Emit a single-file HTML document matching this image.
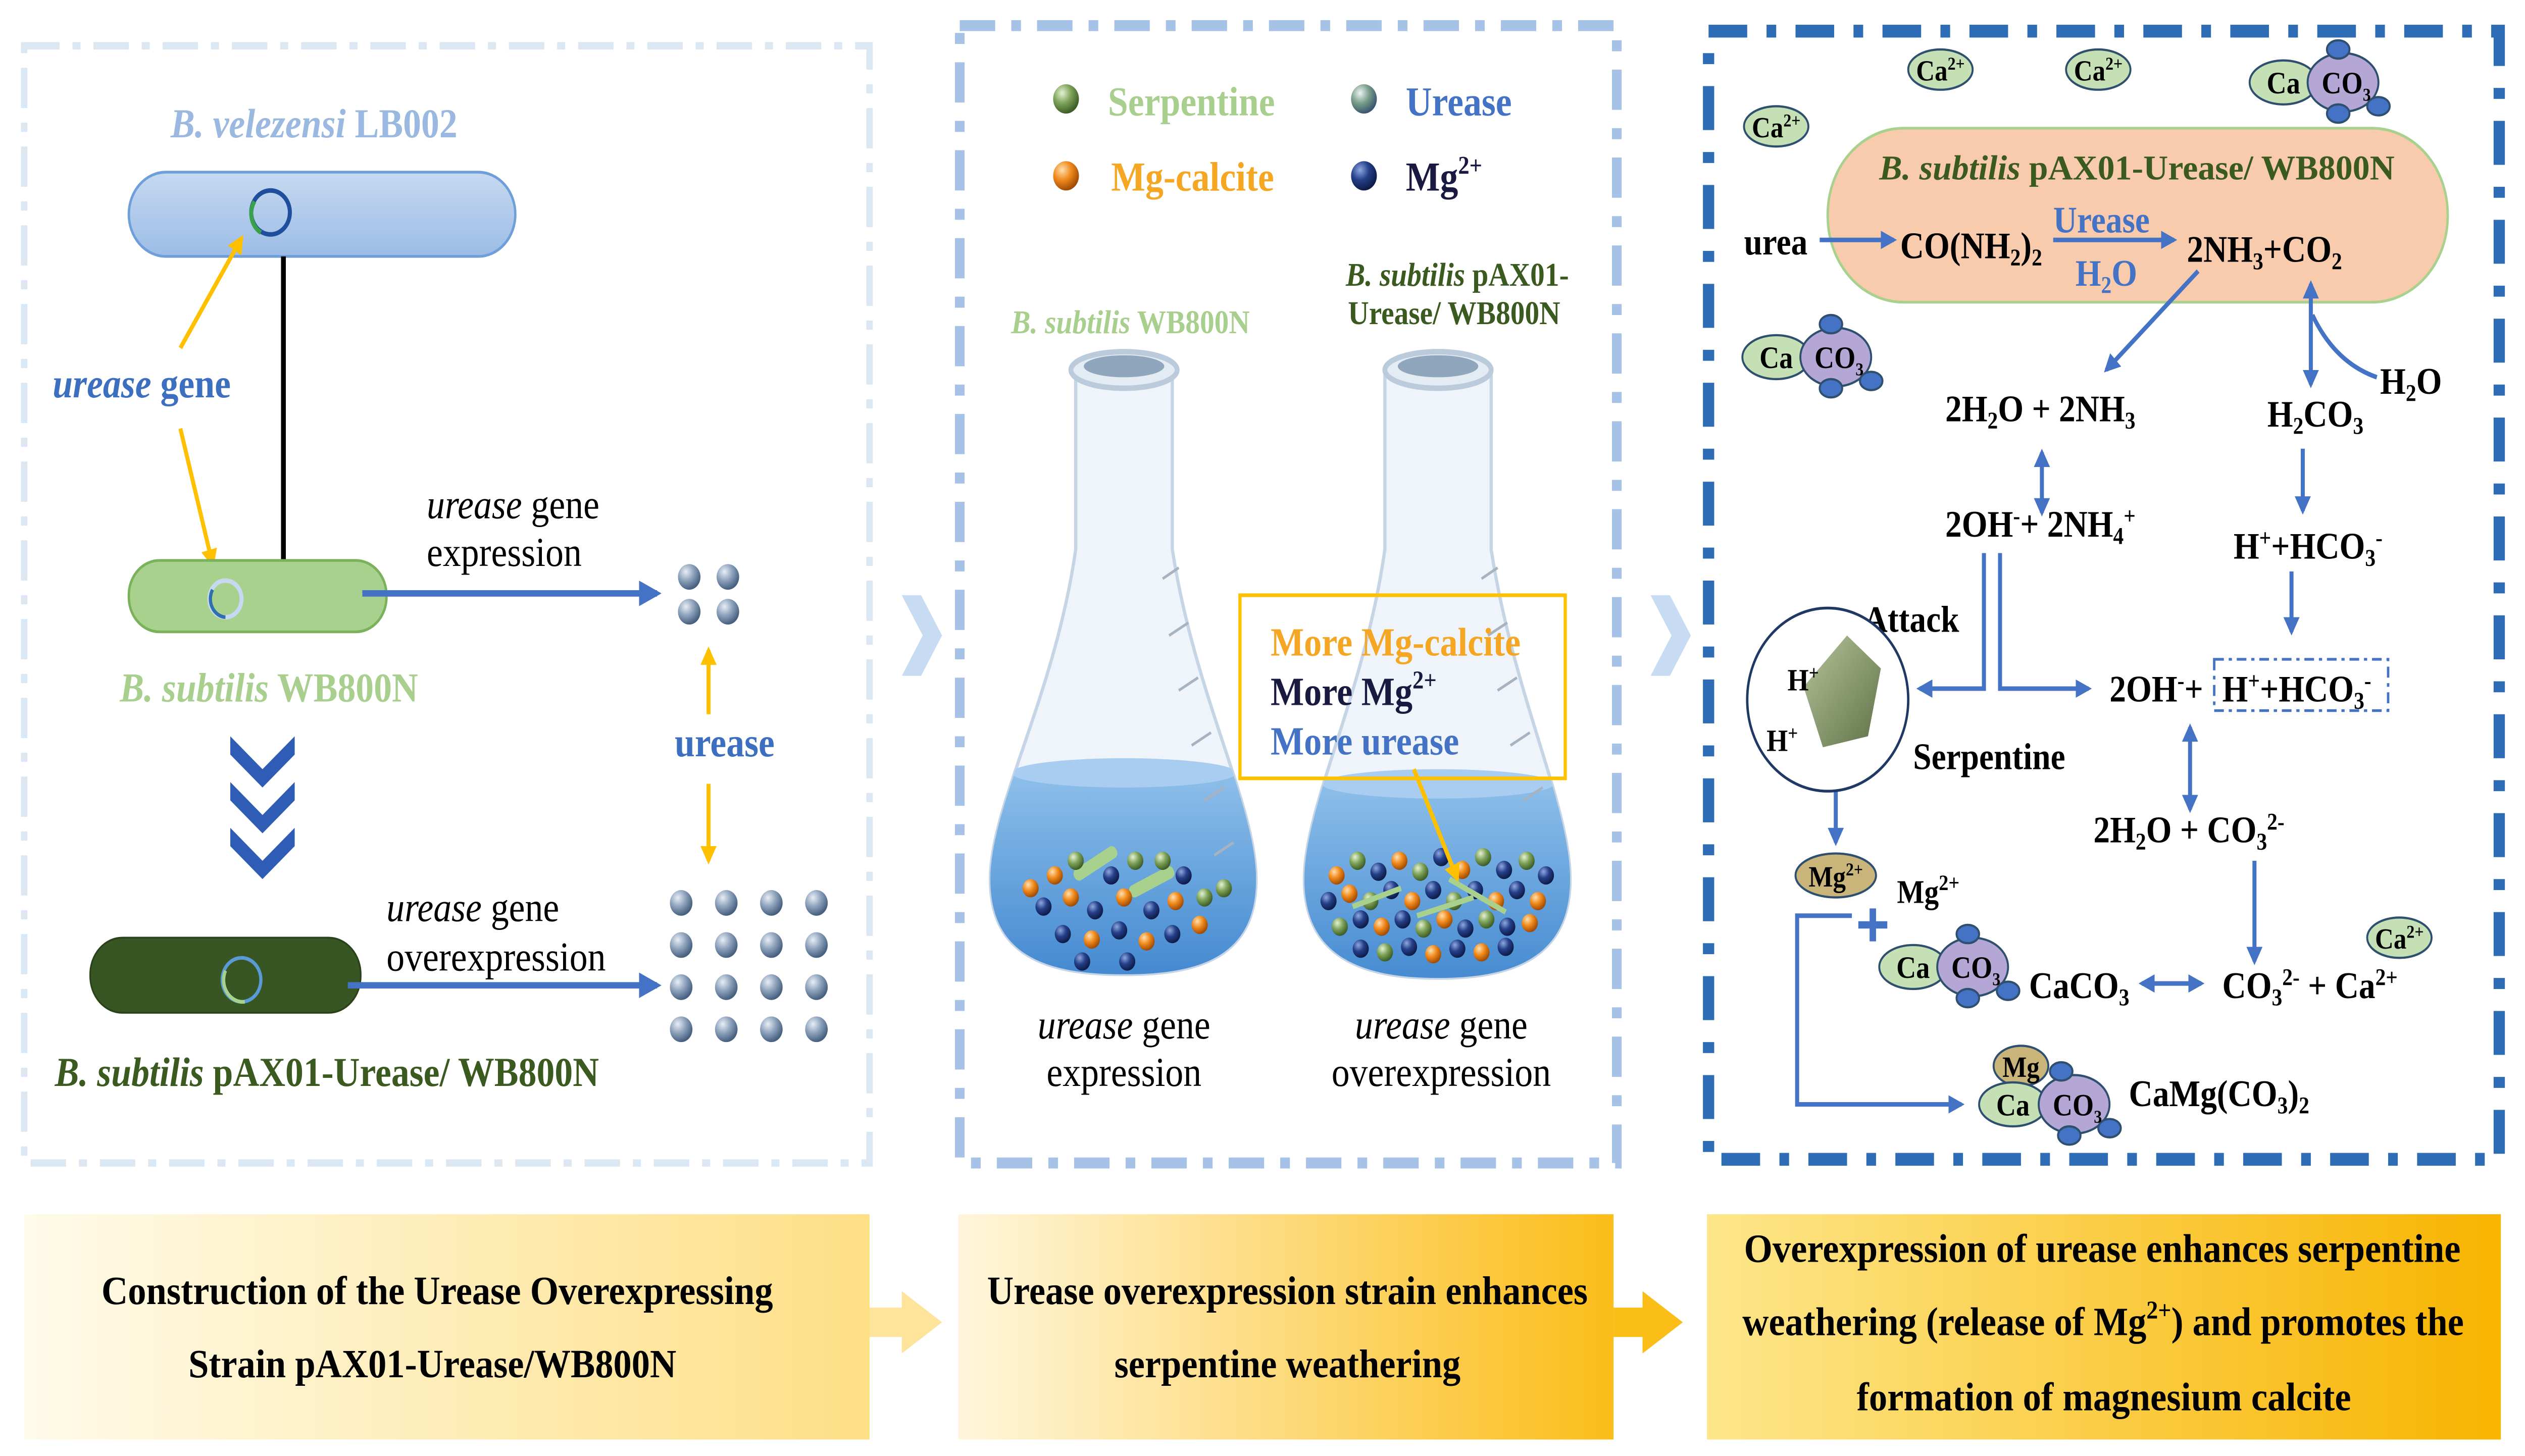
<!DOCTYPE html>
<html><head><meta charset="utf-8"><style>
html,body{margin:0;padding:0;background:#fff;width:100%;height:100%;overflow:hidden}
svg{display:block;width:100vw;height:100vh}
text{font-family:"Liberation Serif",serif;font-weight:bold}
</style></head><body>
<svg viewBox="0 0 1568 795" preserveAspectRatio="none" xmlns="http://www.w3.org/2000/svg">
<defs>
<radialGradient id="gs" cx="35%" cy="30%" r="70%"><stop offset="0" stop-color="#e8eef5"/><stop offset="0.5" stop-color="#8fa3bd"/><stop offset="1" stop-color="#46607f"/></radialGradient>
<radialGradient id="gg" cx="35%" cy="30%" r="70%"><stop offset="0" stop-color="#e4f2d2"/><stop offset="0.5" stop-color="#7fa35a"/><stop offset="1" stop-color="#3e5e27"/></radialGradient>
<radialGradient id="go" cx="35%" cy="30%" r="70%"><stop offset="0" stop-color="#ffe0b0"/><stop offset="0.5" stop-color="#f08a1c"/><stop offset="1" stop-color="#a24d05"/></radialGradient>
<radialGradient id="gb" cx="35%" cy="30%" r="70%"><stop offset="0" stop-color="#8fa8e0"/><stop offset="0.5" stop-color="#253f8a"/><stop offset="1" stop-color="#0e1c48"/></radialGradient>
<radialGradient id="gu" cx="35%" cy="30%" r="70%"><stop offset="0" stop-color="#eef3f8"/><stop offset="0.5" stop-color="#7ba08a"/><stop offset="1" stop-color="#3b5870"/></radialGradient>
<linearGradient id="b1" x1="0" x2="1"><stop offset="0" stop-color="#fffbea"/><stop offset="1" stop-color="#fddf86"/></linearGradient>
<linearGradient id="b2" x1="0" x2="1"><stop offset="0" stop-color="#fff6dc"/><stop offset="1" stop-color="#fbbd18"/></linearGradient>
<linearGradient id="b3" x1="0" x2="1"><stop offset="0" stop-color="#fde68a"/><stop offset="1" stop-color="#f8b400"/></linearGradient>
<linearGradient id="cellb" x1="0" y1="0" x2="0" y2="1"><stop offset="0" stop-color="#c6d9f0"/><stop offset="1" stop-color="#9cbce6"/></linearGradient>
<linearGradient id="liq" x1="0" y1="0" x2="0" y2="1"><stop offset="0" stop-color="#8fc0ea"/><stop offset="1" stop-color="#3f86cf"/></linearGradient>
<linearGradient id="pent" x1="0" y1="0" x2="1" y2="1"><stop offset="0" stop-color="#b7c49a"/><stop offset="1" stop-color="#5f7148"/></linearGradient>
<marker id="ab" viewBox="0 0 10 10" refX="8" refY="5" markerWidth="4" markerHeight="4" orient="auto-start-reverse"><path d="M0,0L10,5L0,10z" fill="#4472c4"/></marker>
<marker id="ay" viewBox="0 0 10 10" refX="8" refY="5" markerWidth="4" markerHeight="4" orient="auto-start-reverse"><path d="M0,0L10,5L0,10z" fill="#ffc000"/></marker>
<marker id="ak" viewBox="0 0 10 10" refX="8" refY="5" markerWidth="4" markerHeight="4" orient="auto"><path d="M0,0L10,5L0,10z" fill="#000"/></marker>
<clipPath id="f1"><path d="M668,205 L668,300 C655,380 615,440 615,480 C615,522 650,532 698,532 C746,532 780,522 780,480 C780,440 742,380 728,300 L728,205 Z"/></clipPath>
<clipPath id="f2"><path d="M860,205 L860,300 C847,380 810,440 810,480 C810,522 845,534 893,534 C941,534 975,522 975,480 C975,440 940,380 926,300 L926,205 Z"/></clipPath>
</defs>

<rect x="15" y="25" width="525" height="610" fill="none" stroke="#dce7f4" stroke-width="4" stroke-dasharray="22 8 5 8"/>
<rect x="596" y="14" width="408" height="621" fill="none" stroke="#a6c2e6" stroke-width="6" stroke-dasharray="22 10 6 10"/>
<rect x="1061" y="17" width="491" height="616" fill="none" stroke="#2e6db5" stroke-width="7" stroke-dasharray="24 12 6 12"/>

<path d="M560,325 L572,325 L585,347 L572,369 L560,369 L573,347Z" fill="#c7dcf3"/>
<path d="M1025,325 L1037,325 L1050,347 L1037,369 L1025,369 L1038,347Z" fill="#c7dcf3"/>

<text x="195" y="75" font-size="22.5" text-anchor="middle" fill="#9ab8e0"><tspan font-style="italic">B. velezensi</tspan> LB002</text>
<rect x="80" y="94" width="240" height="46" rx="23" fill="url(#cellb)" stroke="#6f9fd8" stroke-width="1.5"/>
<circle cx="168" cy="116" r="12" fill="none" stroke="#1f4e9c" stroke-width="2.5"/>
<path d="M158,110 A12,12 0 0 0 162,127" fill="none" stroke="#3aa04a" stroke-width="2.5"/>
<line x1="176" y1="140" x2="176" y2="330" stroke="#000" stroke-width="3" marker-end="url(#ak)"/>
<line x1="112" y1="190" x2="150" y2="130" stroke="#ffc000" stroke-width="2.5" marker-end="url(#ay)"/>
<line x1="112" y1="234" x2="132" y2="308" stroke="#ffc000" stroke-width="2.5" marker-end="url(#ay)"/>
<text x="88" y="217" font-size="22.5" text-anchor="middle" fill="#3d6fc0"><tspan font-style="italic">urease</tspan> gene</text>
<rect x="80" y="306" width="160" height="39" rx="19" fill="#a9d18e" stroke="#7ab15b" stroke-width="1.5"/>
<circle cx="140" cy="327" r="10" fill="none" stroke="#c6d9f0" stroke-width="2.5"/>
<path d="M132,322 A10,10 0 0 0 140,337" fill="none" stroke="#2f6fb0" stroke-width="2"/>
<line x1="225" y1="324" x2="408" y2="324" stroke="#4472c4" stroke-width="3.5" marker-end="url(#ab)"/>
<text x="265" y="283" font-size="22.5" fill="#000" style="font-weight:normal"><tspan font-style="italic">urease</tspan> gene</text>
<text x="265" y="309" font-size="22.5" fill="#000" style="font-weight:normal">expression</text>
<g fill="url(#gs)"><circle cx="428" cy="315" r="7"/><circle cx="452" cy="315" r="7"/><circle cx="428" cy="334" r="7"/><circle cx="452" cy="334" r="7"/></g>
<text x="167" y="383" font-size="22.5" text-anchor="middle" fill="#a9cf8e"><tspan font-style="italic">B. subtilis</tspan> WB800N</text>
<g fill="#2f5db5"><path d="M143,402 L163,420 L183,402 L183,412 L163,430 L143,412Z"/><path d="M143,427 L163,445 L183,427 L183,437 L163,455 L143,437Z"/><path d="M143,452 L163,470 L183,452 L183,462 L163,480 L143,462Z"/></g>
<line x1="440" y1="390" x2="440" y2="355" stroke="#ffc000" stroke-width="2.5" marker-end="url(#ay)"/>
<line x1="440" y1="428" x2="440" y2="470" stroke="#ffc000" stroke-width="2.5" marker-end="url(#ay)"/>
<text x="450" y="413" font-size="22.5" text-anchor="middle" fill="#3d6fc0">urease</text>
<rect x="56" y="512" width="168" height="41" rx="20" fill="#375623" stroke="#2a4219"/>
<circle cx="150" cy="535" r="12" fill="none" stroke="#5b9bd5" stroke-width="2"/>
<path d="M140,530 A12,12 0 0 0 152,547" fill="none" stroke="#a9d18e" stroke-width="2"/>
<line x1="216" y1="538" x2="408" y2="538" stroke="#4472c4" stroke-width="3.5" marker-end="url(#ab)"/>
<text x="240" y="503" font-size="22.5" fill="#000" style="font-weight:normal"><tspan font-style="italic">urease</tspan> gene</text>
<text x="240" y="530" font-size="22.5" fill="#000" style="font-weight:normal">overexpression</text>
<g fill="url(#gs)">
<circle cx="423" cy="493" r="7"/><circle cx="451" cy="493" r="7"/><circle cx="479" cy="493" r="7"/><circle cx="507" cy="493" r="7"/>
<circle cx="423" cy="516" r="7"/><circle cx="451" cy="516" r="7"/><circle cx="479" cy="516" r="7"/><circle cx="507" cy="516" r="7"/>
<circle cx="423" cy="539" r="7"/><circle cx="451" cy="539" r="7"/><circle cx="479" cy="539" r="7"/><circle cx="507" cy="539" r="7"/>
<circle cx="423" cy="562" r="7"/><circle cx="451" cy="562" r="7"/><circle cx="479" cy="562" r="7"/><circle cx="507" cy="562" r="7"/>
</g>
<text x="203" y="593" font-size="22.5" text-anchor="middle" fill="#3a5a1f"><tspan font-style="italic">B. subtilis</tspan> pAX01-Urease/ WB800N</text>

<circle cx="662" cy="54" r="8" fill="url(#gg)"/><text x="688" y="63" font-size="22.5" fill="#a9cf8e">Serpentine</text>
<circle cx="847" cy="54" r="8" fill="url(#gu)"/><text x="873" y="63" font-size="22.5" fill="#4472c4">Urease</text>
<circle cx="662" cy="96" r="8" fill="url(#go)"/><text x="690" y="104" font-size="22.5" fill="#f5a623">Mg-calcite</text>
<circle cx="847" cy="96" r="8" fill="url(#gb)"/><text x="873" y="104" font-size="22.5" fill="#1a1a40">Mg<tspan font-size="14" dy="-9">2+</tspan></text>
<text x="702" y="182" font-size="18" text-anchor="middle" fill="#a9cf8e"><tspan font-style="italic">B. subtilis</tspan> WB800N</text>
<text x="905" y="156" font-size="18" text-anchor="middle" fill="#3a5a1f"><tspan font-style="italic">B. subtilis</tspan> pAX01-</text>
<text x="903" y="177" font-size="18" text-anchor="middle" fill="#3a5a1f">Urease/ WB800N</text>

<g>
<path d="M668,205 L668,300 C655,380 615,440 615,480 C615,522 650,532 698,532 C746,532 780,522 780,480 C780,440 742,380 728,300 L728,205 Z" fill="#eef4fa" stroke="#c5d5e6" stroke-width="2"/>
<g clip-path="url(#f1)"><rect x="600" y="420" width="200" height="120" fill="url(#liq)"/><ellipse cx="698" cy="422" rx="70" ry="8" fill="#a9cdf0"/></g>
<ellipse cx="698" cy="202" rx="33" ry="10" fill="#e3ebf3" stroke="#bccbdb" stroke-width="3"/>
<ellipse cx="698" cy="200" rx="25" ry="6" fill="#8fa6bd"/>
<g stroke="#a7b3c0" stroke-width="1.5" fill="none"><path d="M732,310 l-10,6"/><path d="M738,340 l-12,7"/><path d="M744,370 l-12,7"/><path d="M752,400 l-12,7"/><path d="M760,430 l-12,7"/><path d="M766,460 l-12,7"/></g>
</g>
<g>
<path d="M860,205 L860,300 C847,380 810,440 810,480 C810,522 845,534 893,534 C941,534 975,522 975,480 C975,440 940,380 926,300 L926,205 Z" fill="#eef4fa" stroke="#c5d5e6" stroke-width="2"/>
<g clip-path="url(#f2)"><rect x="800" y="425" width="200" height="120" fill="url(#liq)"/><ellipse cx="893" cy="428" rx="72" ry="8" fill="#a9cdf0"/></g>
<ellipse cx="893" cy="202" rx="33" ry="10" fill="#e3ebf3" stroke="#bccbdb" stroke-width="3"/>
<ellipse cx="893" cy="200" rx="25" ry="6" fill="#8fa6bd"/>
<g stroke="#a7b3c0" stroke-width="1.5" fill="none"><path d="M930,310 l-10,6"/><path d="M936,340 l-12,7"/><path d="M942,370 l-12,7"/><path d="M950,400 l-12,7"/><path d="M958,430 l-12,7"/></g>
</g>
<g>
<rect x="665" y="468" width="30" height="7" rx="3" fill="#a9d18e" transform="rotate(-30 680 471)"/>
<rect x="700" y="478" width="30" height="7" rx="3" fill="#a9d18e" transform="rotate(-25 715 481)"/>
<circle cx="655" cy="478" r="5" fill="url(#go)"/><circle cx="668" cy="470" r="5" fill="url(#gg)"/><circle cx="690" cy="478" r="5" fill="url(#gb)"/>
<circle cx="705" cy="470" r="5" fill="url(#gg)"/><circle cx="722" cy="470" r="5" fill="url(#gg)"/><circle cx="735" cy="478" r="5" fill="url(#gb)"/>
<circle cx="648" cy="495" r="5" fill="url(#gb)"/><circle cx="665" cy="490" r="5" fill="url(#go)"/><circle cx="680" cy="497" r="5" fill="url(#gb)"/>
<circle cx="698" cy="490" r="5" fill="url(#go)"/><circle cx="715" cy="497" r="5" fill="url(#gb)"/><circle cx="730" cy="492" r="5" fill="url(#go)"/>
<circle cx="748" cy="490" r="5" fill="url(#gg)"/><circle cx="760" cy="485" r="5" fill="url(#gg)"/><circle cx="660" cy="510" r="5" fill="url(#gb)"/>
<circle cx="678" cy="513" r="5" fill="url(#go)"/><circle cx="695" cy="508" r="5" fill="url(#gb)"/><circle cx="712" cy="514" r="5" fill="url(#go)"/>
<circle cx="728" cy="510" r="5" fill="url(#gb)"/><circle cx="745" cy="505" r="5" fill="url(#go)"/><circle cx="672" cy="525" r="5" fill="url(#gb)"/>
<circle cx="700" cy="525" r="5" fill="url(#gb)"/><circle cx="640" cy="485" r="5" fill="url(#go)"/>
</g>
<g>
<circle cx="830" cy="478" r="5" fill="url(#go)"/><circle cx="843" cy="470" r="5" fill="url(#gg)"/><circle cx="856" cy="476" r="5" fill="url(#gb)"/><circle cx="869" cy="470" r="5" fill="url(#go)"/><circle cx="882" cy="476" r="5" fill="url(#gg)"/><circle cx="895" cy="468" r="5" fill="url(#gb)"/><circle cx="908" cy="475" r="5" fill="url(#go)"/><circle cx="921" cy="468" r="5" fill="url(#gg)"/><circle cx="934" cy="475" r="5" fill="url(#gb)"/><circle cx="948" cy="470" r="5" fill="url(#gg)"/><circle cx="960" cy="478" r="5" fill="url(#gb)"/>
<circle cx="825" cy="492" r="5" fill="url(#gb)"/><circle cx="838" cy="488" r="5" fill="url(#go)"/><circle cx="851" cy="492" r="5" fill="url(#gg)"/><circle cx="864" cy="486" r="5" fill="url(#gb)"/><circle cx="877" cy="492" r="5" fill="url(#go)"/><circle cx="890" cy="486" r="5" fill="url(#gb)"/><circle cx="903" cy="492" r="5" fill="url(#gg)"/><circle cx="916" cy="486" r="5" fill="url(#gb)"/><circle cx="929" cy="492" r="5" fill="url(#go)"/><circle cx="942" cy="486" r="5" fill="url(#gb)"/><circle cx="955" cy="492" r="5" fill="url(#go)"/>
<circle cx="832" cy="506" r="5" fill="url(#gg)"/><circle cx="845" cy="502" r="5" fill="url(#gb)"/><circle cx="858" cy="506" r="5" fill="url(#go)"/><circle cx="871" cy="502" r="5" fill="url(#gb)"/><circle cx="884" cy="507" r="5" fill="url(#gg)"/><circle cx="897" cy="502" r="5" fill="url(#go)"/><circle cx="910" cy="507" r="5" fill="url(#gb)"/><circle cx="923" cy="502" r="5" fill="url(#gg)"/><circle cx="936" cy="506" r="5" fill="url(#gb)"/><circle cx="950" cy="504" r="5" fill="url(#go)"/>
<circle cx="845" cy="518" r="5" fill="url(#gb)"/><circle cx="860" cy="520" r="5" fill="url(#gg)"/><circle cx="875" cy="517" r="5" fill="url(#gb)"/><circle cx="890" cy="521" r="5" fill="url(#go)"/><circle cx="905" cy="518" r="5" fill="url(#gb)"/><circle cx="920" cy="520" r="5" fill="url(#go)"/><circle cx="935" cy="517" r="5" fill="url(#gb)"/>
<path d="M840,495 L870,485 M880,500 L915,490 M900,480 L935,498" stroke="#a9d18e" stroke-width="3"/>
</g>
<rect x="770" y="325" width="202" height="100" fill="none" stroke="#ffc000" stroke-width="2"/>
<text x="789" y="358" font-size="22" fill="#f5a623">More Mg-calcite</text>
<text x="789" y="385" font-size="22" fill="#1a1a40">More Mg<tspan font-size="14" dy="-9">2+</tspan></text>
<text x="789" y="412" font-size="22" fill="#4472c4">More urease</text>
<line x1="878" y1="420" x2="905" y2="480" stroke="#ffc000" stroke-width="2.5" marker-end="url(#ay)"/>
<text x="698" y="567" font-size="22.5" text-anchor="middle" style="font-weight:normal"><tspan font-style="italic">urease</tspan> gene</text>
<text x="698" y="593" font-size="22.5" text-anchor="middle" style="font-weight:normal">expression</text>
<text x="895" y="567" font-size="22.5" text-anchor="middle" style="font-weight:normal"><tspan font-style="italic">urease</tspan> gene</text>
<text x="895" y="593" font-size="22.5" text-anchor="middle" style="font-weight:normal">overexpression</text>

<g stroke="#2f4f6f" stroke-width="1.2">
<ellipse cx="1205" cy="38" rx="20" ry="11" fill="#c5e0b4"/><ellipse cx="1303" cy="38" rx="20" ry="11" fill="#c5e0b4"/>
<ellipse cx="1103" cy="69" rx="20" ry="11" fill="#c5e0b4"/><ellipse cx="1490" cy="512" rx="20" ry="11" fill="#c5e0b4"/>
<ellipse cx="1140" cy="478" rx="25" ry="12" fill="#c9b57a"/>
</g>
<g font-size="16" text-anchor="middle">
<text x="1205" y="44">Ca<tspan font-size="10" dy="-6">2+</tspan></text><text x="1303" y="44">Ca<tspan font-size="10" dy="-6">2+</tspan></text>
<text x="1103" y="75">Ca<tspan font-size="10" dy="-6">2+</tspan></text><text x="1490" y="518">Ca<tspan font-size="10" dy="-6">2+</tspan></text>
<text x="1140" y="484">Mg<tspan font-size="10" dy="-6">2+</tspan></text>
</g>
<g stroke="#2f4f6f" stroke-width="1.2">
<ellipse cx="1418" cy="45" rx="21" ry="12" fill="#c5e0b4"/><ellipse cx="1455" cy="45" rx="22" ry="16" fill="#b4a7d6"/>
<ellipse cx="1452" cy="27" rx="7" ry="5" fill="#4472c4"/><ellipse cx="1452" cy="62" rx="7" ry="5" fill="#4472c4"/><ellipse cx="1477" cy="58" rx="7" ry="5" fill="#4472c4"/>
</g>
<text x="1418" y="51" font-size="17" text-anchor="middle">Ca</text><text x="1457" y="51" font-size="17" text-anchor="middle">CO<tspan font-size="10" dy="4">3</tspan></text>
<g stroke="#2f4f6f" stroke-width="1.2">
<ellipse cx="1103" cy="195" rx="21" ry="12" fill="#c5e0b4"/><ellipse cx="1140" cy="195" rx="22" ry="16" fill="#b4a7d6"/>
<ellipse cx="1137" cy="177" rx="7" ry="5" fill="#4472c4"/><ellipse cx="1137" cy="212" rx="7" ry="5" fill="#4472c4"/><ellipse cx="1162" cy="208" rx="7" ry="5" fill="#4472c4"/>
</g>
<text x="1103" y="201" font-size="17" text-anchor="middle">Ca</text><text x="1142" y="201" font-size="17" text-anchor="middle">CO<tspan font-size="10" dy="4">3</tspan></text>
<g stroke="#2f4f6f" stroke-width="1.2">
<ellipse cx="1188" cy="528" rx="21" ry="12" fill="#c5e0b4"/><ellipse cx="1225" cy="528" rx="22" ry="16" fill="#b4a7d6"/>
<ellipse cx="1222" cy="510" rx="7" ry="5" fill="#4472c4"/><ellipse cx="1222" cy="545" rx="7" ry="5" fill="#4472c4"/><ellipse cx="1247" cy="541" rx="7" ry="5" fill="#4472c4"/>
</g>
<text x="1188" y="534" font-size="17" text-anchor="middle">Ca</text><text x="1227" y="534" font-size="17" text-anchor="middle">CO<tspan font-size="10" dy="4">3</tspan></text>
<g stroke="#2f4f6f" stroke-width="1.2">
<ellipse cx="1255" cy="582" rx="17" ry="11" fill="#c9b57a"/>
<ellipse cx="1250" cy="603" rx="21" ry="12" fill="#c5e0b4"/><ellipse cx="1288" cy="603" rx="22" ry="16" fill="#b4a7d6"/>
<ellipse cx="1280" cy="585" rx="7" ry="5" fill="#4472c4"/><ellipse cx="1285" cy="620" rx="7" ry="5" fill="#4472c4"/><ellipse cx="1310" cy="616" rx="7" ry="5" fill="#4472c4"/>
</g>
<text x="1255" y="588" font-size="16" text-anchor="middle">Mg</text>
<text x="1250" y="609" font-size="17" text-anchor="middle">Ca</text><text x="1290" y="609" font-size="17" text-anchor="middle">CO<tspan font-size="10" dy="4">3</tspan></text>

<rect x="1135" y="70" width="385" height="95" rx="47" fill="#f8cbad" stroke="#a9d18e" stroke-width="1.5"/>
<text x="1167" y="98" font-size="19" textLength="320" lengthAdjust="spacingAndGlyphs" fill="#3a5a1f"><tspan font-style="italic">B. subtilis</tspan> pAX01-Urease/ WB800N</text>
<g font-size="20.5">
<text x="1083" y="139">urea</text>
<text x="1180" y="141">CO(NH<tspan font-size="13" dy="4">2</tspan><tspan dy="-4">)</tspan><tspan font-size="13" dy="4">2</tspan></text>
<text x="1305" y="127" text-anchor="middle" fill="#4472c4">Urease</text>
<text x="1308" y="156" text-anchor="middle" fill="#4472c4">H<tspan font-size="13" dy="4">2</tspan><tspan dy="-4">O</tspan></text>
<text x="1358" y="143">2NH<tspan font-size="13" dy="4">3</tspan><tspan dy="-4">+CO</tspan><tspan font-size="13" dy="4">2</tspan></text>
<text x="1478" y="215">H<tspan font-size="13" dy="4">2</tspan><tspan dy="-4">O</tspan></text>
<text x="1208" y="230">2H<tspan font-size="13" dy="4">2</tspan><tspan dy="-4">O + 2NH</tspan><tspan font-size="13" dy="4">3</tspan></text>
<text x="1408" y="233">H<tspan font-size="13" dy="4">2</tspan><tspan dy="-4">CO</tspan><tspan font-size="13" dy="4">3</tspan></text>
<text x="1208" y="293">2OH<tspan font-size="13" dy="-7">-</tspan><tspan dy="7">+ 2NH</tspan><tspan font-size="13" dy="4">4</tspan><tspan font-size="13" dy="-11">+</tspan></text>
<text x="1387" y="305">H<tspan font-size="13" dy="-7">+</tspan><tspan dy="7">+HCO</tspan><tspan font-size="13" dy="4">3</tspan><tspan font-size="13" dy="-11">-</tspan></text>
<text x="1187" y="345" text-anchor="middle">Attack</text>
<text x="1188" y="420">Serpentine</text>
<text x="1310" y="383">2OH<tspan font-size="13" dy="-7">-</tspan><tspan dy="7">+</tspan></text>
<text x="1380" y="383">H<tspan font-size="13" dy="-7">+</tspan><tspan dy="7">+HCO</tspan><tspan font-size="13" dy="4">3</tspan><tspan font-size="13" dy="-11">-</tspan></text>
<text x="1300" y="460">2H<tspan font-size="13" dy="4">2</tspan><tspan dy="-4">O + CO</tspan><tspan font-size="13" dy="4">3</tspan><tspan font-size="13" dy="-11">2-</tspan></text>
<text x="1178" y="493" font-size="18">Mg<tspan font-size="12" dy="-7">2+</tspan></text>
<text x="1260" y="545">CaCO<tspan font-size="13" dy="4">3</tspan></text>
<text x="1380" y="545">CO<tspan font-size="13" dy="4">3</tspan><tspan font-size="13" dy="-11">2-</tspan><tspan dy="7"> + Ca</tspan><tspan font-size="13" dy="-7">2+</tspan></text>
<text x="1322" y="604">CaMg(CO<tspan font-size="13" dy="4">3</tspan><tspan dy="-4">)</tspan><tspan font-size="13" dy="4">2</tspan></text>
</g>
<rect x="1375" y="360" width="108" height="28" fill="none" stroke="#4472c4" stroke-width="1.5" stroke-dasharray="6 3 2 3"/>
<g stroke="#4472c4" stroke-width="2.5" fill="none">
<line x1="1130" y1="131" x2="1176" y2="131" marker-end="url(#ab)"/>
<line x1="1275" y1="131" x2="1350" y2="131" marker-end="url(#ab)"/>
<line x1="1365" y1="148" x2="1308" y2="202" marker-end="url(#ab)"/>
<line x1="1435" y1="155" x2="1435" y2="210" marker-start="url(#ab)" marker-end="url(#ab)"/>
<path d="M1436,172 Q1450,198 1476,206"/>
<line x1="1268" y1="247" x2="1268" y2="280" marker-start="url(#ab)" marker-end="url(#ab)"/>
<line x1="1430" y1="245" x2="1430" y2="279" marker-end="url(#ab)"/>
<line x1="1423" y1="312" x2="1423" y2="345" marker-end="url(#ab)"/>
<path d="M1232,302 L1232,376 L1192,376" marker-end="url(#ab)"/>
<path d="M1242,302 L1242,376 L1297,376" marker-end="url(#ab)"/>
<line x1="1360" y1="397" x2="1360" y2="442" marker-start="url(#ab)" marker-end="url(#ab)"/>
<line x1="1400" y1="470" x2="1400" y2="525" marker-end="url(#ab)"/>
<line x1="1140" y1="418" x2="1140" y2="460" marker-end="url(#ab)"/>
<line x1="1330" y1="537" x2="1367" y2="537" marker-start="url(#ab)" marker-end="url(#ab)"/>
<path d="M1150,500 L1116,500 L1116,603 L1218,603" marker-end="url(#ab)"/>
</g>
<path d="M1154,505 h18 M1163,496 v18" stroke="#4472c4" stroke-width="4"/>
<circle cx="1135" cy="382" r="50" fill="#fff" stroke="#1f3864" stroke-width="1.5"/>
<path d="M1147,347 L1168,365 L1160,402 L1132,408 L1120,375Z" fill="url(#pent)"/>
<text x="1110" y="377" font-size="17">H<tspan font-size="11" dy="-6">+</tspan></text>
<text x="1097" y="410" font-size="17">H<tspan font-size="11" dy="-6">+</tspan></text>

<rect x="15" y="663" width="525" height="123" fill="url(#b1)"/>
<rect x="595" y="663" width="407" height="123" fill="url(#b2)"/>
<rect x="1060" y="663" width="493" height="123" fill="url(#b3)"/>
<path d="M540,714 L560,714 L560,705 L585,722 L560,739 L560,730 L540,730Z" fill="#fde49a"/>
<path d="M1002,714 L1020,714 L1020,705 L1045,722 L1020,739 L1020,730 L1002,730Z" fill="#fbbd18"/>
<g font-size="22">
<text x="63" y="712" textLength="417" lengthAdjust="spacingAndGlyphs">Construction of the Urease Overexpressing</text>
<text x="117" y="752" textLength="303" lengthAdjust="spacingAndGlyphs">Strain pAX01-Urease/WB800N</text>
<text x="613" y="712" textLength="373" lengthAdjust="spacingAndGlyphs">Urease overexpression strain enhances</text>
<text x="692" y="752" textLength="215" lengthAdjust="spacingAndGlyphs">serpentine weathering</text>
<text x="1083" y="689" textLength="445" lengthAdjust="spacingAndGlyphs">Overexpression of urease enhances serpentine</text>
<text x="1082" y="729" textLength="448" lengthAdjust="spacingAndGlyphs">weathering (release of Mg<tspan font-size="14" dy="-9">2+</tspan><tspan dy="9">) and promotes the</tspan></text>
<text x="1153" y="770" textLength="307" lengthAdjust="spacingAndGlyphs">formation of magnesium calcite</text>
</g>
</svg>
</body></html>
